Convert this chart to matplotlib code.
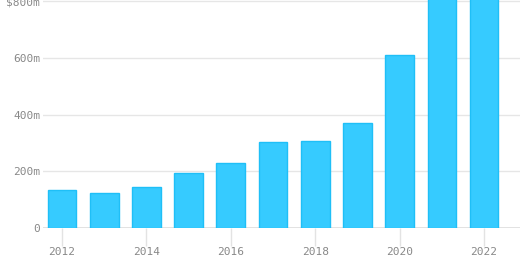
import matplotlib
matplotlib.use("Agg")
import matplotlib.pyplot as plt
from matplotlib.ticker import FuncFormatter

# Data (values in $ millions; last two run off the top)
years = [2012, 2013, 2014, 2015, 2016, 2017, 2018, 2019, 2020, 2021, 2022]
values = [134, 122, 143, 195, 229, 303, 306, 371, 610, 950, 1000]
y_ticks = [0, 200, 400, 600, 800]
x_ticks = [2012, 2014, 2016, 2018, 2020, 2022]

plt.rcParams['font.family'] = ['DejaVu Sans Mono']

fig = plt.figure(figsize=(5.2, 2.72), dpi=100)
ax = fig.add_axes([43 / 520, 44 / 272, 477 / 520, 228 / 272])

ax.bar(years, values, width=0.68, color='#36cbff', edgecolor='#1fbff7',
       linewidth=1, zorder=3)

ax.set_xlim(2011.55, 2022.85)
ax.set_ylim(0, 805)

def fmt(v, pos):
    if v == 0:
        return '0'
    if v == 800:
        return '$%dm' % v
    return '%dm' % v

ax.set_yticks(y_ticks)
ax.yaxis.set_major_formatter(FuncFormatter(fmt))
ax.set_xticks(x_ticks)

ax.grid(axis='y', color='#e6e6e6', linewidth=1, zorder=0)
ax.axhline(0, color='#dddddd', linewidth=1.2, zorder=1)
ax.tick_params(axis='y', length=0, pad=2, labelsize=8, labelcolor='#888888')
ax.tick_params(axis='x', length=13, width=1, color='#e3e3e3', pad=1,
               labelsize=8, labelcolor='#888888')

for s in ax.spines.values():
    s.set_visible(False)

fig.savefig('out.png', dpi=100)
